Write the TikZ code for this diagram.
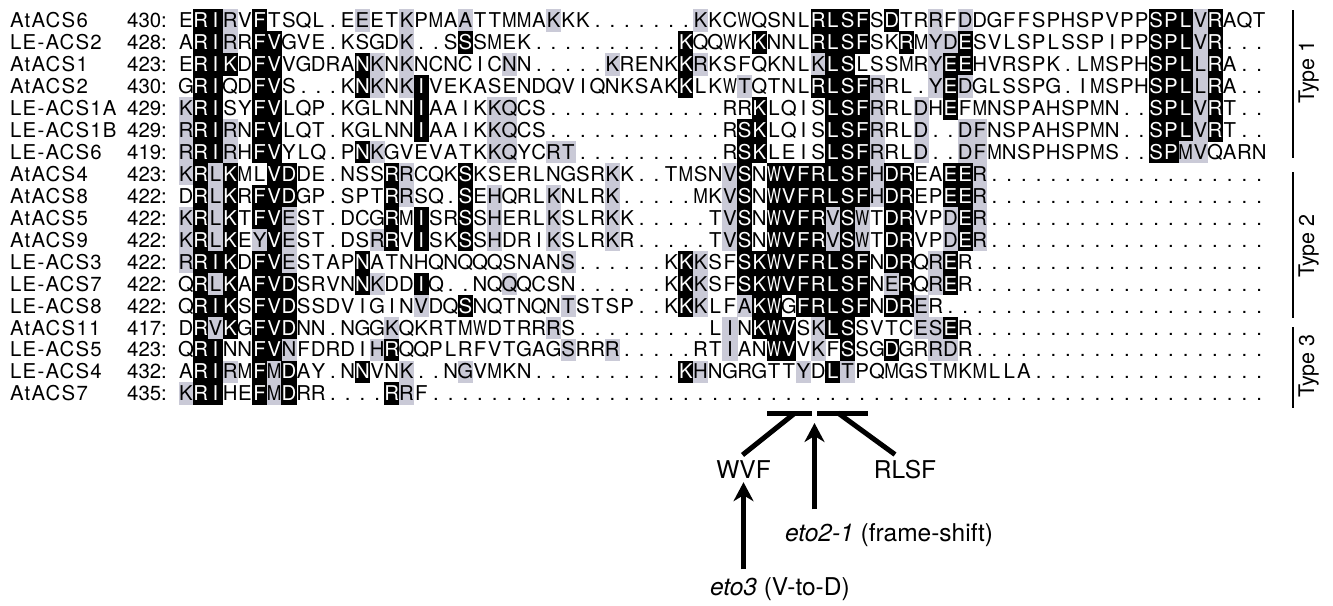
\documentclass[tikz,border=0pt]{standalone}
\usepackage{fontspec}
\setmainfont{TeX Gyre Heros}
\newfontfamily\namefont[LetterSpace=6]{TeX Gyre Heros}
\usepackage{graphicx}
\usetikzlibrary{arrows.meta,calc}
\definecolor{alngray}{RGB}{202,202,215}
\tikzset{
  resid/.style={anchor=base,inner sep=0pt,font=\fontsize{20.4}{24}\selectfont},
  lab/.style={anchor=base west,inner sep=0pt,font=\fontsize{20.4}{24}\selectfont},
  annot/.style={anchor=base,inner sep=0pt,font=\fontsize{24.5}{28}\selectfont},
  typ/.style={anchor=base,inner sep=0pt,rotate=90,font=\fontsize{21.5}{25}\selectfont},
  barline/.style={line width=5pt},
  brk/.style={line width=2.8pt},
  arr/.style={line width=4.5pt,-{Stealth[length=19pt,width=20pt,inset=6pt]}}
}
\newcommand\alnglyph[1]{\if W#1\scalebox{0.72}[1]{W}\else\if M#1\scalebox{0.86}[1]{M}\else#1\fi\fi}
\newcommand\alnchar[4]{\node[resid,text=#4] (#4r#2c#1) at ({171.35+14.7*#1},{27.7+21.95*(#2-1)}) {\alnglyph{#3}};}
\newcommand\alnbox[3]{\fill[#3] ({178.5+14.7*(#1-1)},{9.3+21.95*(#2-1)}) rectangle ++(15.1,22.45);}
\newcommand\alnlabel[3]{\node[lab] (name#1) at (10,{27.7+21.95*(#1-1)}) {\namefont #2};\node[lab] (num#1) at (127,{27.7+21.95*(#1-1)}) {#3:};}
\ExplSyntaxOn
\NewDocumentCommand \alnrow { m m m m }
  {
    \clist_map_inline:nn {#4} { \alnbox {##1} {#1} {alngray} }
    \int_step_inline:nn { 74 }
      {
        \clist_if_in:nnF {#3} {##1}
          {
            \int_compare:nNnTF {##1} > { \str_count:n {#2} }
              { \alnchar {##1} {#1} {.} {black} }
              { \use:e { \exp_not:N \alnchar {##1} {#1} { \str_item:nn {#2} {##1} } {black} } }
          }
      }
    \clist_map_inline:nn {#3}
      {
        \alnbox {##1} {#1} {black}
        \use:e { \exp_not:N \alnchar {##1} {#1} { \str_item:nn {#2} {##1} } {white} }
      }
  }
\ExplSyntaxOff
\begin{document}
\begin{tikzpicture}[x=1pt,y=-1pt]
\useasboundingbox (0,0) rectangle (1333,605);
\alnlabel{1}{AtACS6}{430}
\alnlabel{2}{LE-ACS2}{428}
\alnlabel{3}{AtACS1}{423}
\alnlabel{4}{AtACS2}{430}
\alnlabel{5}{LE-ACS1A}{429}
\alnlabel{6}{LE-ACS1B}{429}
\alnlabel{7}{LE-ACS6}{419}
\alnlabel{8}{AtACS4}{423}
\alnlabel{9}{AtACS8}{422}
\alnlabel{10}{AtACS5}{422}
\alnlabel{11}{AtACS9}{422}
\alnlabel{12}{LE-ACS3}{422}
\alnlabel{13}{LE-ACS7}{422}
\alnlabel{14}{LE-ACS8}{422}
\alnlabel{15}{AtACS11}{417}
\alnlabel{16}{LE-ACS5}{423}
\alnlabel{17}{LE-ACS4}{432}
\alnlabel{18}{AtACS7}{435}
\alnrow{1}{ERIRVFTSQL.EEETKPMAATTMMAKKK.......KKCWQSNLRLSFSDTRRFDDGFFSPHSPVPPSPLVRAQT}{2,3,6,44,45,46,47,49,67,68,69,71}{4,13,16,20,26,36,52,54,70}
\alnrow{2}{ARIRRFVGVE.KSGDK..SSSMEK..........KQQWKKNNLRLSFSKRMYDESVLSPLSSPIPPSPLVR...}{2,3,6,7,20,35,40,44,45,46,47,50,54,67,68,69,71}{4,16,52,53,70}
\alnrow{3}{ERIKDFVVGDRANKNKNCNCICNN.....KRENKKRKSFQKNLKLSLSSMRYEEHVRSPK.LMSPHSPLLRA..}{2,3,4,6,7,13,35,45,46,53,54,67,68,69,71}{14,16,23,30,36,44,52,70}
\alnrow{4}{GRIQDFVS...KNKNKIVEKASENDQVIQNKSAKKLKWTQTNLRLSFRRL.YEDGLSSPG.IMSPHSPLLRA..}{2,3,6,7,13,17,35,44,45,46,47,53,67,68,69,71}{14,16,39,48,52,54,70}
\alnrow{5}{KRISYFVLQP.KGLNNIAAIKKQCS............RRKLQISLSFRRLDHEFMNSPAHSPMN..SPLVRT..}{2,3,6,7,17,40,45,46,47,53,67,68,69,71}{1,22,23,48,51,70}
\alnrow{6}{RRIRNFVLQT.KGLNNIAAIKKQCS............RSKLQISLSFRRLD..DFNSPAHSPMN..SPLVRT..}{2,3,6,7,17,39,40,45,46,47,67,68,69,71}{1,4,22,23,48,51,54,55,70}
\alnrow{7}{RRIRHFVYLQ.PNKGVEVATKKQYCRT..........RSKLEISLSFRRLD..DFMNSPHSPMS..SPMVQARN}{2,3,6,7,13,39,40,45,46,47,67,68}{1,4,14,22,23,26,27,48,51,54,55,69,70}
\alnrow{8}{KRLKMLVDDE.NSSRRCQKSKSERLNGSRKK..TMSNVSNWVFRLSFHDREAEER}{2,4,7,8,15,20,39,41,42,43,44,45,46,47,49,50,53,54}{1,3,16,30,38,48,55}
\alnrow{9}{DRLKRFVDGP.SPTRRSQ.SEHQRLKNLRK.....MKVSNWVFRLSFHDREPEER}{2,4,6,7,8,15,20,39,41,42,43,44,45,46,47,49,50,53,54}{3,16,22,26,30,38,48,55}
\alnrow{10}{KRLKTFVEST.DCGRMISRSSHERLKSLRKK.....TVSNWVFRVSWTDRVPDER}{2,4,6,7,15,17,20,39,41,42,43,44,46,49,50,54}{1,3,8,22,26,30,38,45,47,53,55}
\alnrow{11}{KRLKEYVEST.DSRRVISKSSHDRIKSLRKR.....TVSNWVFRVSWTDRVPDER}{2,4,7,15,17,20,39,41,42,43,44,46,49,50,54}{1,3,6,8,14,22,26,30,38,45,47,53,55}
\alnrow{12}{RRIKDFVESTAPNATNHQNQQQSNANS......KKKSFSKWVFRLSFNDRQRER}{2,3,4,6,7,13,35,39,40,41,42,43,44,45,46,47,49,50,53}{1,8,27,36,52}
\alnrow{13}{QRLKAFVDSRVNNKDDIQ..NQQQCSN......KKKSFSKWVFRLSFNERQRER}{2,4,6,7,8,13,17,35,39,40,41,42,43,44,45,46,47,50,53}{3,14,23,36,49,52}
\alnrow{14}{QRIKSFVDSSDVIGINVDQSNQTNQNTSTSP..KKKLFAKWGFRLSFNDRER}{2,3,4,6,7,8,20,35,40,41,43,44,45,46,47,49,50}{17,27,36,39,51}
\alnrow{15}{DRVKGFVDNN.NGGKQKRTMWDTRRRS.........LINKWVSKLSSVTCESER}{2,4,6,7,8,40,41,42,45,46,53}{3,15,26,38,44,51,52}
\alnrow{16}{QRINNFVNFDRDIHRQQPLRFVTGAGSRRR.....RTIANWVVKFSSGDGRRDR}{2,3,6,7,15,41,42,46,49}{8,14,27,30,38,44,52,53}
\alnrow{17}{ARIRMFMDAY.NNVNK..NGVMKN..........KHNGRGTTYDLTPQMGSTMKMLLA}{2,3,6,8,13,35,45}{4,7,16,20,36,43,46}
\alnrow{18}{KRIHEFMDRR....RRF}{2,3,6,8,15}{1,7,16}
% type brackets
\coordinate (t1a) at (1293,10);  \coordinate (t1b) at (1293,158);
\coordinate (t2a) at (1293,172); \coordinate (t2b) at (1293,318);
\coordinate (t3a) at (1293,327); \coordinate (t3b) at (1293,408);
\draw[brk] (t1a) -- (t1b);
\draw[brk] (t2a) -- (t2b);
\draw[brk] (t3a) -- (t3b);
\node[typ] (type1) at (1314,72) {Type 1};
\node[typ] (type2) at (1314,246) {Type 2};
\node[typ] (type3) at (1314,366) {Type 3};
% motif annotation
\node[annot] (wvf) at (743.5,478) {WVF};
\node[annot] (rlsf) at (905,478) {RLSF};
\node[annot,anchor=base west] (eto2) at (785,541.5) {\textit{eto2-1} (frame-shift)};
\node[annot,anchor=base west] (eto3) at (710,595) {\textit{eto3} (V-to-D)};
\coordinate (bar1l) at (767,413); \coordinate (bar1r) at (812,413);
\coordinate (bar2l) at (817,413); \coordinate (bar2r) at (868,413);
\coordinate (d1) at (795,413); \coordinate (d2) at (838,413);
\coordinate (gap) at ($(bar1r)!0.5!(bar2l)+(0,10)$);
\draw[barline] (bar1l) -- (bar1r);
\draw[barline] (bar2l) -- (bar2r);
\draw[barline] (d1) -- ($(wvf.north)+(-1,-5)$);
\draw[barline] (d2) -- ($(rlsf.north)+(-10,-5)$);
\draw[arr] ($(eto2.north -| gap)+(0,-14)$) -- (gap);
\draw[arr] ($(eto3.north -| wvf.south)+(0,-7.5)$) -- ($(wvf.south)+(0,4)$);
\end{tikzpicture}
\end{document}
